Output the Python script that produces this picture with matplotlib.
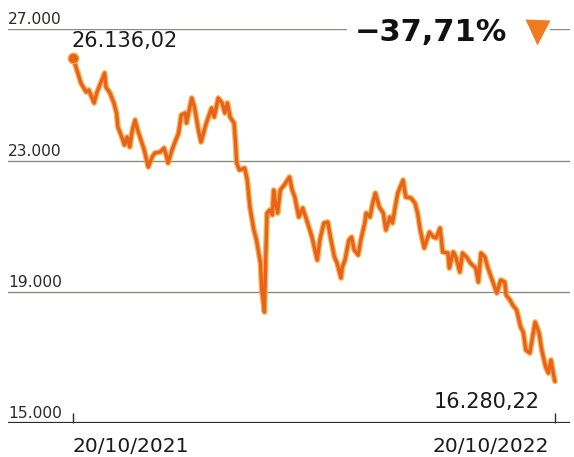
import numpy as np
import pandas as pd
import matplotlib
matplotlib.use("Agg")
import matplotlib.pyplot as plt

# Index closes: day offsets from 20/10/2021 and closing values
days = [0, 3, 6, 10, 12, 16, 18, 21, 24, 25, 28, 31, 33, 34, 37, 39, 41, 43, 45, 47,
        49, 51, 54, 57, 60, 62, 66, 69, 71, 72, 75, 77, 80, 82, 85, 86, 90, 92, 95, 97,
        101, 105, 107, 110, 113, 115, 117, 119, 122, 123, 124, 126, 130, 132, 134, 137, 139, 142, 143, 145,
        146, 147, 149, 151, 152, 153, 155, 157, 160, 164, 166, 168, 171, 174, 177, 181, 185, 187, 190, 193,
        195, 198, 200, 203, 204, 206, 209, 211, 213, 216, 218, 221, 222, 225, 227, 229, 232, 235, 237, 240,
        242, 244, 246, 250, 252, 256, 259, 261, 263, 266, 270, 273, 275, 278, 280, 284, 285, 288, 290, 293,
        295, 298, 301, 305, 307, 309, 312, 314, 318, 321, 324, 327, 328, 331, 333, 336, 339, 341, 343, 346,
        349, 350, 353, 355, 358, 360, 362, 364, 365]
closes = [26136.02, 25760, 25364, 25090, 25151, 24755, 25060, 25364, 25669, 25242,
          25060, 24755, 24450, 24024, 23719, 23476, 23719, 23415, 23933, 24237,
          23933, 23689, 23323, 22806, 23110, 23232, 23263, 23384, 23110, 22927,
          23323, 23537, 23841, 24390, 24450, 24146, 24907, 24633, 23933, 23567,
          24146, 24603, 24329, 24907, 24755, 24450, 24755, 24329, 24146, 23628,
          22927, 22714, 22775, 22410, 21587, 20887, 20582, 19881, 19059, 18389,
          20064, 21404, 21496, 21344, 22105, 21800, 21404, 22105, 22257, 22501,
          22105, 21892, 21283, 21557, 21191, 20673, 19973, 20582, 21100, 21130,
          20673, 20064, 19881, 19425, 19760, 19973, 20582, 20673, 20277, 20125,
          20582, 21100, 21404, 21283, 21709, 22014, 21587, 21404, 20887, 21283,
          21100, 21587, 22014, 22410, 21892, 21861, 21709, 21404, 20887, 20338,
          20826, 20673, 20643, 20948, 20217, 20186, 19729, 20217, 20064, 19607,
          20186, 20064, 19881, 19729, 19303, 20186, 20064, 19760, 19303, 18968,
          19364, 19303, 18907, 18755, 18602, 18450, 17932, 17780, 17231, 17140,
          17841, 18084, 17749, 17231, 16714, 16531, 16927, 16470, 16280.22]

start_date = pd.Timestamp("2021-10-20")
dates = start_date + pd.to_timedelta(days, unit="D")

y_levels = [15000, 19000, 23000, 27000]
y_labels = ["15.000", "19.000", "23.000", "27.000"]
x_tick_dates = [pd.Timestamp("2021-10-20"), pd.Timestamp("2022-10-20")]
x_tick_labels = ["20/10/2021", "20/10/2022"]
first_label = "26.136,02"
last_label = "16.280,22"
change_label = "\u221237,71%"

ORANGE = "#E8621C"
GLOW = "#F7A83A"
INK = "#1a1a1a"

plt.rcParams["font.family"] = ["DejaVu Sans"]
fig = plt.figure(figsize=(5.74, 4.57), dpi=100)
ax = fig.add_axes([0.0139, 0.0737, 0.9791, 0.8622])

ax.set_xlim(x_tick_dates[0] - pd.Timedelta(days=49.2), x_tick_dates[1] + pd.Timedelta(days=11.4))
ax.set_ylim(15000, 27000)

for s in ax.spines.values():
    s.set_visible(False)

# horizontal rules
for lvl in y_levels[1:]:
    ax.axhline(lvl, color="#8a8a82", lw=1.0, zorder=1)
ax.axhline(y_levels[0], color="#2b2b2b", lw=1.6, zorder=3)

# y labels sit on top of their rules at the left
for lvl, lab in zip(y_levels, y_labels):
    ax.annotate(lab, xy=(0, lvl), xycoords=("axes fraction", "data"),
                xytext=(0, 1.5), textcoords="offset points",
                ha="left", va="bottom", fontsize=11.2, color="#2a2a2a")

# small upward ticks on the baseline
ax.set_xticks(x_tick_dates)
ax.set_xticklabels([])
ax.set_yticks([])
ax.tick_params(axis="x", direction="in", length=7.5, width=1.0, color="#2b2b2b", pad=0)

ax.annotate(x_tick_labels[0], xy=(x_tick_dates[0], 15000), xycoords="data",
            xytext=(0, -10), textcoords="offset points",
            ha="left", va="top", fontsize=14.5, color=INK)
ax.annotate(x_tick_labels[1], xy=(x_tick_dates[1], 15000), xycoords="data",
            xytext=(-4, -10), textcoords="offset points",
            ha="right", va="top", fontsize=14.5, color=INK)

# price line with a soft warm halo
ax.plot(dates, closes, color=GLOW, lw=4.2, alpha=0.85, solid_joinstyle="round",
        solid_capstyle="round", zorder=4)
ax.plot(dates, closes, color=ORANGE, lw=2.4, solid_joinstyle="round",
        solid_capstyle="round", zorder=5)
ax.plot([dates[0]], [closes[0]], "o", ms=7.5, color=ORANGE, mec=GLOW, mew=1.0, zorder=6)

# first and last values
ax.annotate(first_label, xy=(dates[0], closes[0]), xycoords="data",
            xytext=(-1, 5), textcoords="offset points",
            ha="left", va="bottom", fontsize=15, color=INK)
ax.annotate(last_label, xy=(x_tick_dates[1], 15000), xycoords="data",
            xytext=(-11, 8), textcoords="offset points",
            ha="right", va="bottom", fontsize=15, color=INK)

# headline change with a down triangle, masking the top rule
ax.annotate(change_label, xy=(0.617, 27000), xycoords=("axes fraction", "data"),
            xytext=(0, -2.5), textcoords="offset points",
            ha="left", va="center", fontsize=22, fontweight="bold", color="#111111",
            bbox=dict(boxstyle="square,pad=0.25", fc="white", ec="none"), zorder=7,
            annotation_clip=False)
ax.add_patch(plt.Rectangle((0.89, 26300), 0.075, 1400, transform=ax.get_yaxis_transform(),
                           fc="white", ec="none", zorder=6, clip_on=False))
ax.plot([0.942], [26930], marker="v", ms=18, color="#F07A1E", mec="none",
        transform=ax.get_yaxis_transform(), zorder=8, clip_on=False)

fig.savefig("out.png", dpi=100)
